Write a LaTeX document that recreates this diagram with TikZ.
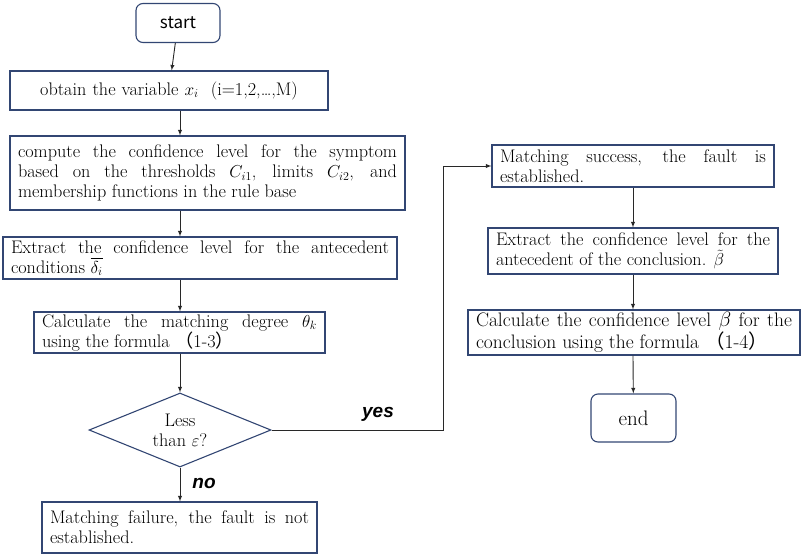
\documentclass[tikz,border=0pt]{standalone}
\usepackage{fontspec}
\usepackage{amsmath}
\newfontfamily\cjk{Noto Sans CJK SC}
\newfontfamily\tagfont{Liberation Sans}
\usetikzlibrary{arrows, shapes.geometric}
\definecolor{boxline}{RGB}{50,70,115}
\definecolor{flowline}{RGB}{40,40,40}

\begin{document}
\begin{tikzpicture}[x=1pt, y=-1pt,
  every node/.style={font=\fontsize{18.2}{20}\selectfont},
  proc/.style={draw=boxline, line width=1.1pt, align=justify, inner xsep=8pt, inner ysep=2pt},
  term/.style={draw=boxline, line width=1.1pt, rounded corners=7pt},
  test/.style={draw=boxline, line width=1.1pt, diamond, aspect=2.46, inner sep=0pt,
    minimum width=182pt, minimum height=74pt, align=center},
  tag/.style={font=\tagfont\fontsize{19}{20}\selectfont\bfseries\itshape},
  flow/.style={->, >=latex, draw=flowline, line width=0.9pt}]
\useasboundingbox (0,0) rectangle (809,555);
%
\node[term, minimum width=84pt, minimum height=39pt, font=\cjk\fontsize{17}{20}\selectfont](start) at (178,23) {start};
%
\node[proc, text width=302pt, minimum height=39pt, align=center](obtain) at (169,90.5) {obtain the variable $x_i$~~(i=1,2,\ldots,M)};
\draw[flow](start) -- (obtain) {};
%
\node[proc, text width=379pt, minimum height=74pt](compute) at (207.5,173) {compute the confidence level for the symptom\linebreak based on the thresholds $C_{i1}$, limits $C_{i2}$, and\linebreak membership functions in the rule base};
\draw[flow](obtain.south -| 180,0) -- (compute.north -| 180,0) {};
%
\node[proc, text width=378pt, minimum height=42pt](extract) at (200,258) {Extract the confidence level for the antecedent\linebreak conditions $\overline{\delta_i}$};
\draw[flow](compute.south -| 180,0) -- (extract.north -| 180,0) {};
%
\node[proc, text width=275pt, minimum height=41pt](calc) at (179.5,332.5) {Calculate the matching degree $\theta_k$\linebreak using the formula~{\cjk （}1-3{\cjk ）}};
\draw[flow](extract.south -| 180,0) -- (calc.north -| 180,0) {};
%
\node[test](less) at (180,430) {Less\\than $\varepsilon$?};
\draw[flow](calc.south -| 180,0) -- (less) {};
%
\node[proc, text width=259pt, minimum height=51pt](fail) at (179.5,527.5) {Matching failure, the fault is not\linebreak established.};
\draw[flow](less) -- (fail.north -| 180,0) {};
\node[tag](no) at (204,483) {no};
%
\node[proc, text width=266pt, minimum height=42pt](success) at (633,166) {Matching success, the fault is\linebreak established.};
\coordinate(turn) at (443,430);
\draw[flow](less.east) -- (turn) |- (success.west) {};
\node[tag](yes) at (378,414) {yes};
%
\node[proc, text width=274pt, minimum height=46pt](extract2) at (633,251) {Extract the confidence level for the\linebreak antecedent of the conclusion. $\tilde{\beta}$};
\draw[flow](success) -- (extract2) {};
%
\node[proc, text width=316pt, minimum height=45pt, font=\fontsize{19.5}{22}\selectfont](calc2) at (634,332.5) {Calculate the confidence level $\beta$ for the\linebreak conclusion using the formula~{\cjk （}1-4{\cjk ）}};
\draw[flow](extract2.south -| 633,0) -- (calc2.north -| 633,0) {};
%
\node[term, minimum width=85pt, minimum height=48pt, font=\fontsize{21}{22}\selectfont](end) at (633.5,418) {end};
\draw[flow](calc2.south -| 633,0) -- (end) {};
\end{tikzpicture}
\end{document}
